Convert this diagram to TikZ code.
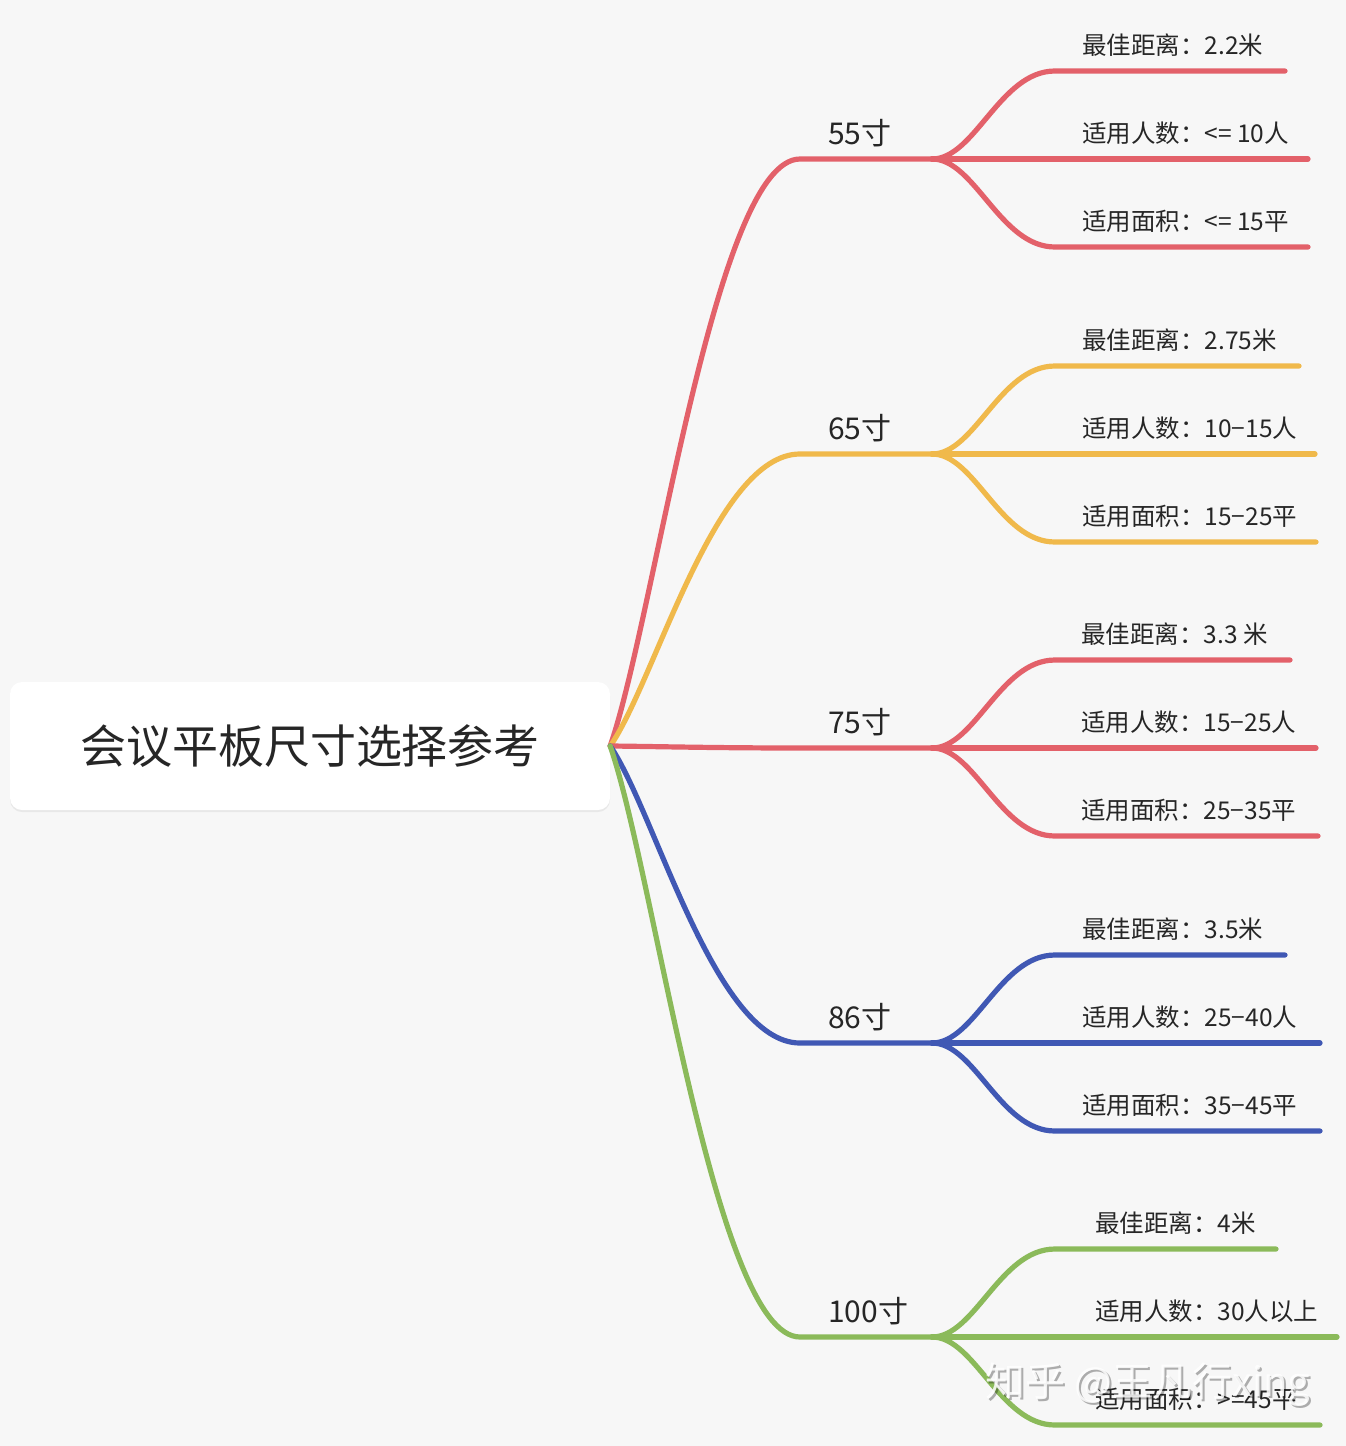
\documentclass[tikz,border=0pt]{standalone}
\usepackage{fontspec}
\setmainfont{Noto Sans CJK SC}
\usetikzlibrary{shadows}
\definecolor{cred}{HTML}{E3616A}
\definecolor{cyel}{HTML}{F0B94B}
\definecolor{cblu}{HTML}{4058B4}
\definecolor{cgrn}{HTML}{8BBA5A}
\definecolor{cbg}{HTML}{F7F7F7}
\definecolor{ctxt}{HTML}{262626}
\tikzset{
  conn/.style={line width=5.2pt, line cap=round},
  rootbox/.style={rectangle, rounded corners=12pt, fill=white, minimum width=600pt, minimum height=128pt, inner sep=0pt,
    drop shadow={opacity=0.12, shadow xshift=0pt, shadow yshift=-2pt}, text=ctxt, font=\fontsize{46}{56}\selectfont},
  lone/.style={anchor=west, inner sep=0pt, text=ctxt, font=\fontsize{30}{36}\selectfont},
  ltwo/.style={anchor=west, inner sep=0pt, text=ctxt, font=\fontsize{24.5}{29}\selectfont},
}
\newcommand\mybranch[5]{%
  \coordinate (#1h) at (800,#2);
  \coordinate (#1s) at (932,#2);
  \draw[conn,#3] (root.east) .. controls (655,{746+(#2-746)*0.22}) and (715,#2) .. (#1h) -- (#1s);
  \node[lone] (#1) at (#5,{#2-26}) {#4};
}
\newcommand\mykidn[7]{%
  \coordinate (#1#4b) at (1055,{#2+#4});
  \coordinate (#1#4e) at (#7,{#2+#4});
  \draw[conn,#3] (#1s) .. controls (975,#2) and (1000,{#2+#4}) .. (#1#4b) -- (#1#4e);
  \node[ltwo] (#1#4l) at (#5,{#2+#4-26}) {#6};
}
\begin{document}
\begin{tikzpicture}[x=1pt,y=-1pt]
\useasboundingbox (0,0) rectangle (1346,1446);
\fill[cbg] (0,0) rectangle (1346,1446);
\node[rootbox] (root) at (310,746) {会议平板尺寸选择参考};

% 55
\mybranch{a}{159}{cred}{55寸}{828}
\mykidn{a}{159}{cred}{-88}{1082}{最佳距离：2.2米}{1285}
\mykidn{a}{159}{cred}{0}{1082}{适用人数：<= 10人}{1308}
\mykidn{a}{159}{cred}{88}{1082}{适用面积：<= 15平}{1308}
% 65
\mybranch{b}{454}{cyel}{65寸}{828}
\mykidn{b}{454}{cyel}{-88}{1082}{最佳距离：2.75米}{1299}
\mykidn{b}{454}{cyel}{0}{1082}{适用人数：10−15人}{1315}
\mykidn{b}{454}{cyel}{88}{1082}{适用面积：15−25平}{1316}
% 75
\mybranch{c}{748}{cred}{75寸}{828}
\mykidn{c}{748}{cred}{-88}{1081}{最佳距离：3.3 米}{1290}
\mykidn{c}{748}{cred}{0}{1081}{适用人数：15−25人}{1316}
\mykidn{c}{748}{cred}{88}{1081}{适用面积：25−35平}{1318}
% 86
\mybranch{d}{1043}{cblu}{86寸}{828}
\mykidn{d}{1043}{cblu}{-88}{1082}{最佳距离：3.5米}{1285}
\mykidn{d}{1043}{cblu}{0}{1082}{适用人数：25−40人}{1320}
\mykidn{d}{1043}{cblu}{88}{1082}{适用面积：35−45平}{1320}
% 100
\mybranch{e}{1337}{cgrn}{100寸}{828}
\mykidn{e}{1337}{cgrn}{-88}{1095}{最佳距离：4米}{1276}
\mykidn{e}{1337}{cgrn}{0}{1095}{适用人数：30人以上}{1337}
\mykidn{e}{1337}{cgrn}{88}{1095}{适用面积：>=45平}{1320}

% watermark
\node[inner sep=0pt, text=black, opacity=0.3, font=\fontsize{40}{48}\selectfont] (wms) at (1150,1387) {知乎 @王凡行xing};
\node[inner sep=0pt, text=white, opacity=0.85, font=\fontsize{40}{48}\selectfont] (wm) at (1148,1385) {知乎 @王凡行xing};
\end{tikzpicture}
\end{document}
